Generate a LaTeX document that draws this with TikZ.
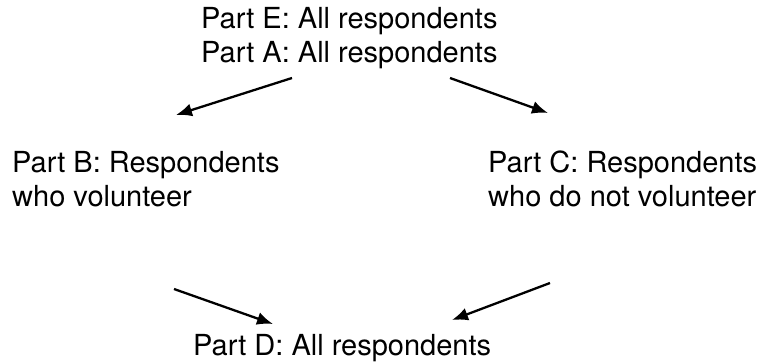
\documentclass[tikz,border=0pt]{standalone}
\usepackage{fontspec}
\setmainfont{TeX Gyre Heros}
\usetikzlibrary{arrows.meta}
\begin{document}
\begin{tikzpicture}[x=1pt,y=-1pt,
	part/.style={align=left,inner sep=0pt,anchor=base west,font=\fontsize{29}{34}\selectfont},
	flow/.style={line width=2.3pt,-{Latex[length=16pt,width=13pt]}}]
	\useasboundingbox (0,0) rectangle (770,363);
	\node[part] (partEA) at (201,63) {Part E: All respondents\\Part A: All respondents};
	\node[part] (partB) at (12,207) {Part B: Respondents\\who volunteer};
	\node[part] (partC) at (488,207) {Part C: Respondents\\who do not volunteer};
	\node[part] (partD) at (193,355) {Part D: All respondents};
	\coordinate (eaL) at (292,78);
	\coordinate (bTop) at (176,115);
	\coordinate (eaR) at (450,78);
	\coordinate (cTop) at (548,113);
	\coordinate (bBot) at (174,289);
	\coordinate (dL) at (273,324);
	\coordinate (cBot) at (550,283);
	\coordinate (dR) at (452,320);
	\draw[flow] (eaL)--(bTop);
	\draw[flow] (eaR)--(cTop);
	\draw[flow] (bBot)--(dL);
	\draw[flow] (cBot)--(dR);
\end{tikzpicture}
\end{document}
